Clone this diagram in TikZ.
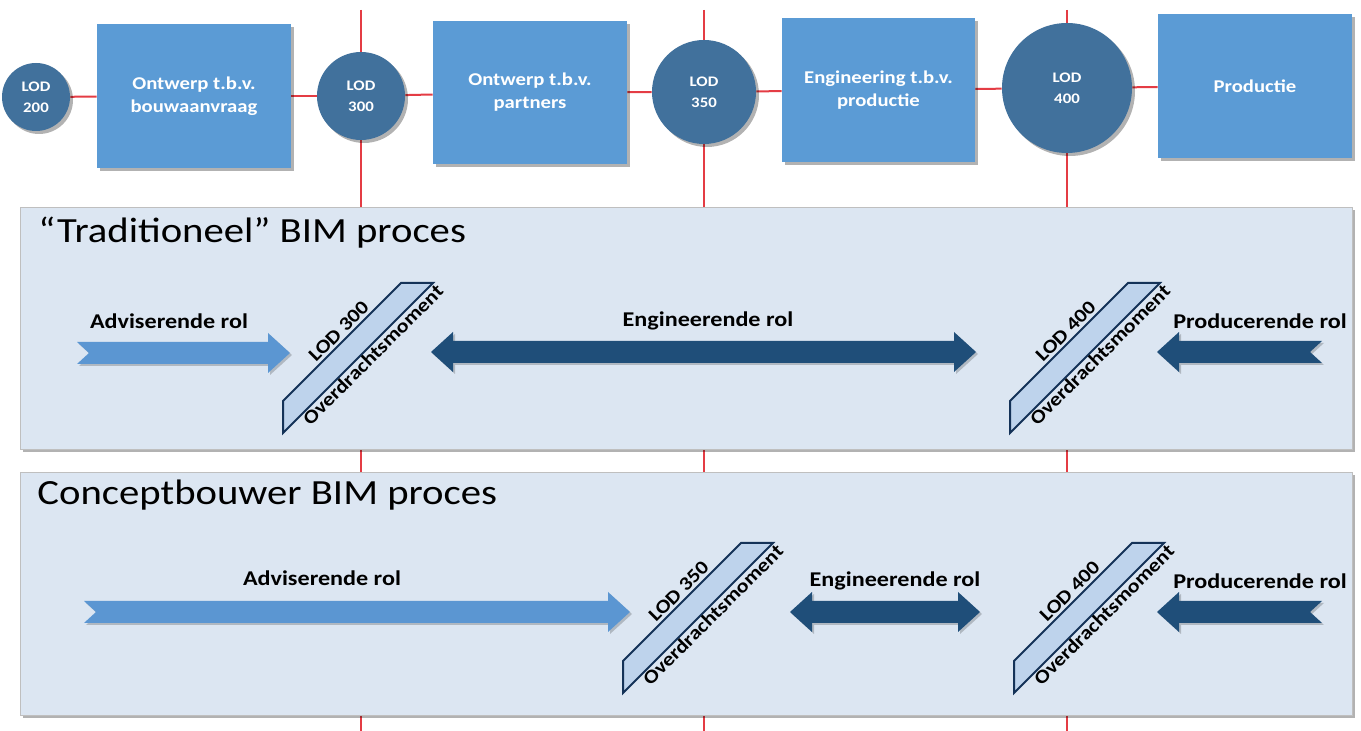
\documentclass[tikz,border=0pt]{standalone}
\usepackage{fontspec}
\setmainfont{Carlito}[FakeStretch=1.15]
\usetikzlibrary{
  backgrounds,
  positioning,
  shadows
}
\definecolor{boxblue}{RGB}{91,155,213}
\definecolor{lodblue}{RGB}{65,113,156}
\definecolor{darkarrow}{RGB}{31,78,121}
\definecolor{lightarrow}{RGB}{91,150,210}
\definecolor{lanefill}{RGB}{220,230,242}
\definecolor{barfill}{RGB}{190,211,236}
\definecolor{barline}{RGB}{20,50,88}
\definecolor{redline}{RGB}{228,60,68}
\tikzset{
  softshadow/.style={drop shadow={shadow xshift=1.5pt,shadow yshift=-1.5pt,opacity=0.3,fill=black}},
  phase/.style={
    fill=boxblue,
    text=white,
    align=center,
    softshadow,
    font=\fontsize{9}{11.5}\selectfont\bfseries
  },
  lod/.style={
    circle,
    fill=lodblue,
    text=white,
    align=center,
    inner sep=0pt,
    softshadow,
    font=\fontsize{7.3}{10.5}\selectfont\bfseries
  },
  connector/.style={draw=redline,line width=1pt},
  lane/.style={
    draw=black!25,
    fill=lanefill,
    inner sep=0pt,
    softshadow
  },
  lanetitle/.style={font=\fontsize{17.7}{20}\selectfont,inner sep=0pt},
  rollabel/.style={font=\fontsize{10.5}{12}\selectfont\bfseries,inner sep=1pt},
  bar/.style={draw=barline,fill=barfill,line width=1pt},
  barlabel/.style={font=\fontsize{9.6}{11}\selectfont\bfseries,inner sep=0.5pt},
  arrowshadow/.style={drop shadow={shadow xshift=1pt,shadow yshift=-1pt,opacity=0.2,fill=black}}
}
% arrow pointing right: colour, tail x, tip x, y
\newcommand{\pijlrechts}[4]{%
  \fill[#1,arrowshadow] (#2,#4-11) -- (#3-22,#4-11) -- (#3-22,#4-20) -- (#3,#4)
    -- (#3-22,#4+20) -- (#3-22,#4+11) -- (#2,#4+11) -- (#2+12,#4) -- cycle;}
% arrow pointing left: colour, tip x, tail x, y
\newcommand{\pijllinks}[4]{%
  \fill[#1,arrowshadow] (#3,#4-11) -- (#2+22,#4-11) -- (#2+22,#4-20) -- (#2,#4)
    -- (#2+22,#4+20) -- (#2+22,#4+11) -- (#3,#4+11) -- (#3-12,#4) -- cycle;}
% double arrow: colour, left tip, right tip, y
\newcommand{\dubbelpijl}[4]{%
  \fill[#1,arrowshadow] (#2,#4) -- (#2+22,#4-20) -- (#2+22,#4-11) -- (#3-22,#4-11)
    -- (#3-22,#4-20) -- (#3,#4) -- (#3-22,#4+20) -- (#3-22,#4+11)
    -- (#2+22,#4+11) -- (#2+22,#4+20) -- cycle;}
% hand-over bar: x, y of lower left corner, LOD text, name
\newcommand{\overdracht}[4]{%
  \filldraw[bar] (#1,#2) -- (#1,#2-32) -- (#1+118,#2-150) -- (#1+150,#2-150) -- cycle;
  \path (#1,#2-32) -- node[barlabel,sloped,above=1pt,pos=0.53] (#4-lod) {#3} (#1+118,#2-150);
  \path (#1,#2) -- node[barlabel,sloped,below,pos=0.56] (#4-moment) {Overdrachtsmoment} (#1+150,#2-150);
}

\begin{document}
\begin{tikzpicture}[x=0.5pt,y=-0.5pt]
  \useasboundingbox (0,0) rectangle (1361,731);
  \coordinate (top) at (0,10);
  \coordinate (bottom) at (0,731);

  % phases and LOD moments
  \node[lod,minimum size=34pt] (lod200) at (36,97) {LOD\\200};
  \node[phase,minimum width=97pt,minimum height=72pt] (ontwerp1) at (194,96)
    {Ontwerp t.b.v.\\bouwaanvraag};
  \node[lod,minimum size=44pt] (lod300) at (361,96) {LOD\\300};
  \node[phase,minimum width=97pt,minimum height=71.5pt] (ontwerp2) at (530,92.5)
    {Ontwerp t.b.v.\\partners};
  \node[lod,minimum size=52pt] (lod350) at (704,92) {LOD\\350};
  \node[phase,minimum width=96.5pt,minimum height=72pt] (engineering) at (878.5,90)
    {Engineering t.b.v.\\productie};
  \node[lod,minimum size=65pt] (lod400) at (1067,88) {LOD\\400};
  \node[phase,minimum width=97pt,minimum height=72pt] (productie) at (1255,86)
    {Productie};

  \begin{scope}[on background layer]
    \fill[white] (0,0) rectangle (1361,731);
    \foreach \a/\b in {lod200/ontwerp1,ontwerp1/lod300,lod300/ontwerp2,ontwerp2/lod350,
                       lod350/engineering,engineering/lod400,lod400/productie}
      \draw[connector] (\a) -- (\b);
    \foreach \c in {lod300,lod350,lod400}
      \draw[connector] (\c |- top) -- (\c |- bottom);
  \end{scope}

  % "Traditioneel" lane
  \node[lane,minimum width=666pt,minimum height=121pt,anchor=north west]
    (traditioneel) at (20,207) {};
  \node[lanetitle,anchor=base west] (traditioneel-titel) at (38,243)
    {“Traditioneel” BIM proces};

  \pijlrechts{lightarrow}{77}{290}{353}
  \dubbelpijl{darkarrow}{431}{976}{352}
  \pijllinks{darkarrow}{1157}{1322}{352}
  \node[rollabel] (advies1) at (169,321) {Adviserende rol};
  \node[rollabel] (engineer1) at (708,321) {Engineerende rol};
  \node[rollabel] (produceer1) at (1260,321) {Producerende rol};
  \overdracht{283}{433}{LOD 300}{trad300}
  \overdracht{1010}{433}{LOD 400}{trad400}

  % Conceptbouwer lane
  \node[lane,minimum width=666pt,minimum height=121.5pt,anchor=north west]
    (concept) at (20,472) {};
  \node[lanetitle,anchor=base west] (concept-titel) at (37,505)
    {Conceptbouwer BIM proces};

  \pijlrechts{lightarrow}{84}{630}{612}
  \dubbelpijl{darkarrow}{790}{980}{612}
  \pijllinks{darkarrow}{1157}{1322}{612}
  \node[rollabel] (advies2) at (322,578) {Adviserende rol};
  \node[rollabel] (engineer2) at (895,581) {Engineerende rol};
  \node[rollabel] (produceer2) at (1260,581) {Producerende rol};
  \overdracht{623}{693}{LOD 350}{con350}
  \overdracht{1014}{693}{LOD 400}{con400}
\end{tikzpicture}
\end{document}
